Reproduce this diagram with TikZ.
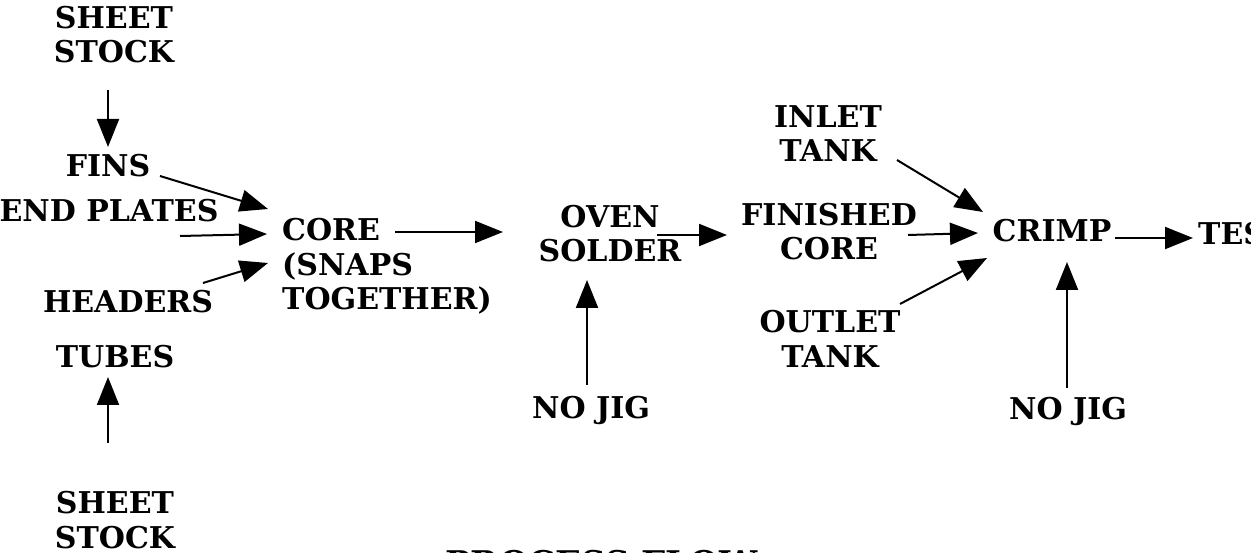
\documentclass[tikz,border=0pt]{standalone}
\usepackage{fontspec}
\setmainfont{DejaVu Serif}
\usetikzlibrary{arrows.meta,calc}
\tikzset{
  lbl/.style={font=\fontsize{30}{34.5}\selectfont\bfseries, inner sep=0pt, align=center, anchor=base},
  arr/.style={line width=2pt, -{Triangle[length=28pt,width=22pt]}}
}
\begin{document}
\begin{tikzpicture}[x=1pt,y=-1pt]
\useasboundingbox (0,0) rectangle (1251,553);
% nodes (base = baseline of last line)
\node[lbl] (ss1) at (114,63) {SHEET\\STOCK};
\node[lbl] (fins) at (108,177) {FINS};
\node[lbl] (endp) at (109,222) {END PLATES};
\node[lbl] (headers) at (128,313) {HEADERS};
\node[lbl] (tubes) at (115,367) {TUBES};
\node[lbl] (ss2) at (115,548) {SHEET\\STOCK};
\node[lbl, align=left, anchor=base west] (core) at (282,310) {CORE\\(SNAPS\\TOGETHER)};
\node[lbl] (oven) at (610,262) {OVEN\\SOLDER};
\node[lbl] (nojig1) at (591,418) {NO JIG};
\node[lbl] (inlet) at (828,162) {INLET\\TANK};
\node[lbl] (finished) at (829,260) {FINISHED\\CORE};
\node[lbl] (outlet) at (830,367) {OUTLET\\TANK};
\node[lbl] (crimp) at (1052,242) {CRIMP};
\node[lbl, anchor=base west] (test) at (1198,245) {TEST};
\node[lbl] (nojig2) at (1068,420) {NO JIG};
\node[lbl, anchor=base west, font=\fontsize{34}{38}\selectfont\bfseries] (title) at (445,575.5) {PROCESS FLOW};
% connectors
\draw[arr] ($(ss1.base)+(-6,27)$) -- ($(fins.base)+(0,-30)$);
\draw[arr] ($(fins.base)+(52,-1)$) -- ($(core.base west)+(-14,-101)$);
\draw[arr] ($(endp.base)+(71,14)$) -- ($(core.base west)+(-15,-76)$);
\draw[arr] ($(headers.base)+(75,-30)$) -- ($(core.base west)+(-14,-47)$);
\draw[arr] ($(ss2.base)+(-7,-105)$) -- ($(tubes.base)+(-7,10)$);
\draw[arr] ($(core.base west)+(113,-78)$) -- ($(oven.base)+(-107,-30)$);
\draw[arr] ($(oven.base)+(47,-27)$) -- ($(finished.base)+(-102,-25)$);
\draw[arr] ($(nojig1.base)+(-4,-33)$) -- ($(oven.base)+(-23,18)$);
\draw[arr] ($(inlet.base)+(69,-2)$) -- ($(crimp.base)+(-69,-30)$);
\draw[arr] ($(finished.base)+(79,-25)$) -- ($(crimp.base)+(-74,-9)$);
\draw[arr] ($(outlet.base)+(70,-63)$) -- ($(crimp.base)+(-65,16)$);
\draw[arr] ($(crimp.base)+(63,-4)$) -- ($(test.base west)+(-5,-7)$);
\draw[arr] ($(nojig2.base)+(-1,-32)$) -- ($(crimp.base)+(15,20)$);
\end{tikzpicture}
\end{document}
